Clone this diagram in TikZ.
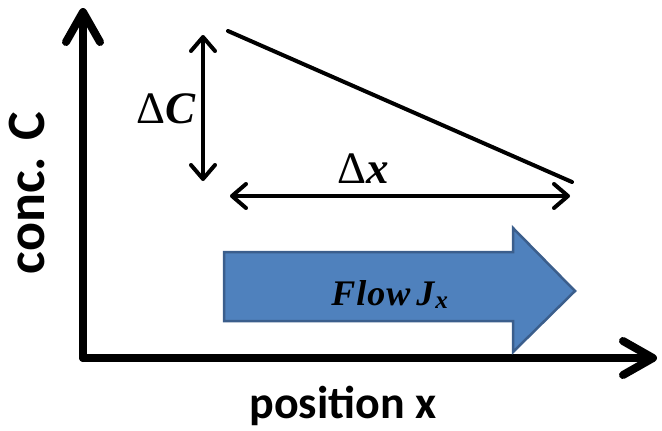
\documentclass[tikz,border=0pt]{standalone}
\usepackage{fontspec}
\setmainfont{Liberation Serif}
\newfontfamily\labfont{Carlito}
\usetikzlibrary{arrows.meta}
\definecolor{flowblue}{HTML}{4F81BD}
\definecolor{flowedge}{HTML}{3B5E8C}
\tikzset{
  axisline/.style={line width=8pt,line cap=round,-{Straight Barb[length=30pt,width=34pt,line width=8pt,round]}},
  dimline/.style={line width=4pt,line cap=round,{Straight Barb[length=14pt,width=24pt,line width=4pt,round]}-{Straight Barb[length=14pt,width=24pt,line width=4pt,round]}},
  slopeline/.style={line width=4pt,line cap=round},
  mathlabel/.style={font=\fontsize{45}{50}\selectfont,inner sep=0pt,anchor=base},
}
\begin{document}
\begin{tikzpicture}[x=1pt,y=-1pt]
\useasboundingbox (0,0) rectangle (662,431);
\coordinate (O) at (83,358);
\coordinate (Ytip) at (83,8);
\coordinate (Xtip) at (657,358);
\draw[axisline] (O) -- (Ytip);
\draw[axisline] (O) -- (Xtip);
\coordinate (Ctop) at (203,35);
\coordinate (Cbot) at (203,181);
\draw[dimline] (Ctop) -- (Cbot);
\coordinate (Xl) at (230,196);
\coordinate (Xr) at (570,196);
\draw[dimline] (Xl) -- (Xr);
\coordinate (Ls) at (228,31);
\coordinate (Le) at (572,182);
\draw[slopeline] (Ls) -- (Le);
\node[mathlabel] (dC) at (166,123) {Δ\textbf{\textit{C}}};
\node[mathlabel] (dx) at (363,183) {Δ\textbf{\textit{x}}};
\fill[flowblue,draw=flowedge,line width=2.5pt,line join=miter]
  (224,252) -- (513,252) -- (513,228) -- (575,291) -- (513,352) -- (513,321) -- (224,321) -- cycle;
\node[font=\fontsize{36}{40}\selectfont\bfseries\itshape,inner sep=0pt,anchor=base] (flow) at (390,305) {F\kern1pt l\kern1pt o\kern1pt w\kern6pt J\textsubscript{\kern1pt x}};
\node[font=\labfont\bfseries\fontsize{46}{50}\selectfont,inner sep=0pt,anchor=base] (xl) at (343,418) {position x};
\node[font=\labfont\bfseries\fontsize{54}{58}\selectfont,inner sep=0pt,anchor=base,rotate=90] (yl) at (45,193) {conc. C};
\end{tikzpicture}
\end{document}
